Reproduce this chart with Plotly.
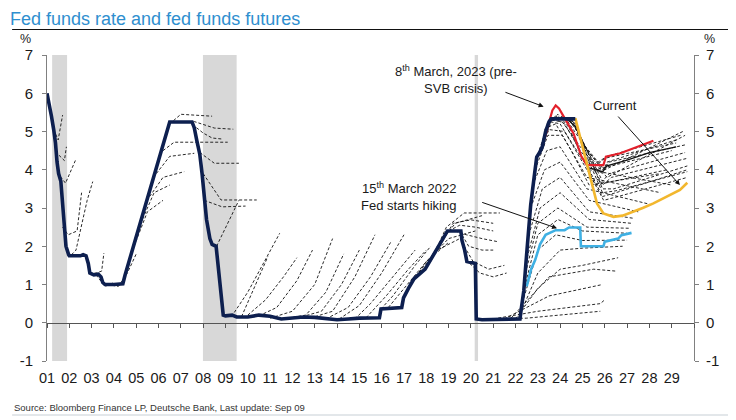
import plotly.graph_objects as go

# ---------------- data ----------------
year_ticks = list(range(2001, 2030))
year_labels = [f"{y % 100:02d}" for y in year_ticks]
y_ticks = [-1, 0, 1, 2, 3, 4, 5, 6, 7]
y_labels = ["-1", "0", "1", "2", "3", "4", "5", "6", "7"]

recessions = [(2001.23, 2001.9), (2007.99, 2009.5), (2020.17, 2020.32)]

fed_years = [2001.0, 2001.08, 2001.2, 2001.3, 2001.38, 2001.45, 2001.52, 2001.62, 2001.68, 2001.76,
             2001.85, 2001.97, 2002.0, 2002.5, 2002.62, 2002.75, 2002.85, 2002.92, 2003.1, 2003.3,
             2003.42, 2003.5, 2003.6, 2004.0, 2004.4, 2004.5, 2004.75, 2005.0, 2005.25, 2005.5,
             2005.75, 2006.0, 2006.25, 2006.5, 2007.5, 2007.6, 2007.72, 2007.85, 2007.95, 2008.05,
             2008.15, 2008.3, 2008.4, 2008.58, 2008.68, 2008.78, 2008.9, 2009.0, 2009.3, 2009.5,
             2010.0, 2010.5, 2011.0, 2011.5, 2012.0, 2012.5, 2013.0, 2013.5, 2014.0, 2014.5,
             2015.0, 2015.9, 2015.97, 2016.9, 2016.98, 2017.2, 2017.45, 2017.95, 2018.2, 2018.45,
             2018.7, 2018.95, 2019.55, 2019.6, 2019.72, 2019.82, 2020.2, 2020.24, 2020.5, 2021.0,
             2021.5, 2022.2, 2022.25, 2022.37, 2022.47, 2022.57, 2022.68, 2022.84, 2022.95, 2023.08,
             2023.2, 2023.35, 2023.5, 2023.6, 2024.68]
fed_values = [6.0, 5.7, 5.4, 5.05, 4.7, 4.2, 3.9, 3.7, 3.2, 2.5,
              2.0, 1.78, 1.75, 1.75, 1.78, 1.75, 1.55, 1.3, 1.25, 1.27,
              1.2, 1.05, 1.0, 1.0, 1.02, 1.25, 1.75, 2.3, 2.75, 3.25,
              3.75, 4.3, 4.75, 5.25, 5.25, 5.1, 4.75, 4.4, 3.9, 3.2,
              2.7, 2.2, 2.05, 2.0, 1.5, 0.8, 0.2, 0.18, 0.2, 0.15,
              0.15, 0.2, 0.17, 0.1, 0.12, 0.15, 0.14, 0.1, 0.08, 0.1,
              0.12, 0.13, 0.36, 0.4, 0.65, 0.9, 1.15, 1.4, 1.65, 1.9,
              2.15, 2.4, 2.4, 2.15, 1.9, 1.6, 1.55, 0.1, 0.08, 0.08,
              0.1, 0.1, 0.33, 0.83, 1.58, 2.33, 3.08, 3.83, 4.33, 4.45,
              4.6, 5.0, 5.25, 5.33, 5.33]

mar2023_years = [2023.2, 2023.45, 2023.65, 2023.8, 2023.95, 2024.2, 2024.6, 2024.95, 2025.2, 2025.94,
                 2026.05, 2026.7, 2027.28, 2027.88, 2028.18]
mar2023_values = [4.6, 5.1, 5.55, 5.68, 5.6, 5.35, 4.95, 4.35, 4.12, 4.12,
                  4.34, 4.43, 4.56, 4.69, 4.76]

current_years = [2024.68, 2024.85, 2025.05, 2025.25, 2025.43, 2025.65, 2025.94, 2026.39, 2026.8, 2027.28,
                 2027.7, 2028.18, 2028.78, 2029.37, 2029.7]
current_values = [5.35, 4.95, 4.52, 4.05, 3.65, 3.12, 2.86, 2.77, 2.8, 2.9,
                  3.0, 3.12, 3.29, 3.47, 3.66]

mar2022_years = [2022.5, 2022.7, 2022.88, 2023.1, 2023.35, 2023.8, 2024.2, 2024.4, 2024.9, 2024.93,
                 2025.94, 2026.0, 2026.6, 2026.75, 2027.2]
mar2022_values = [0.95, 1.4, 1.64, 2.05, 2.3, 2.42, 2.42, 2.49, 2.49, 2.0,
                  2.0, 2.12, 2.2, 2.29, 2.35]

prior_years = [2025.3, 2025.9, 2026.1, 2027.0, 2028.0, 2029.2]
prior_values = [4.05, 3.95, 4.1, 4.25, 4.45, 4.6]

# historical fed funds futures curves: (years, values)
futures_curves = [
    ([2001.3, 2001.5, 2001.7], [5.05, 4.78, 5.43]),
    ([2001.38, 2001.78, 2001.87], [4.47, 4.24, 4.6]),
    ([2001.6, 2001.83, 2002.3], [3.82, 3.65, 4.28]),
    ([2001.7, 2001.95, 2002.35, 2002.55], [2.5, 2.3, 2.4, 3.4]),
    ([2002.1, 2002.3, 2002.8, 2003.05], [1.78, 1.9, 3.2, 3.69]),
    ([2002.9, 2003.2, 2003.45, 2003.55], [1.3, 1.3, 1.35, 1.82]),
    ([2003.2, 2003.6, 2004.0], [1.25, 0.95, 1.05]),
    ([2003.7, 2004.2, 2004.6, 2005.0], [1.0, 0.95, 1.3, 1.8]),
    ([2004.9, 2005.5, 2006.2], [2.0, 2.9, 3.2]),
    ([2005.2, 2005.8, 2006.5], [2.6, 3.4, 3.6]),
    ([2005.6, 2006.2, 2007.15], [3.3, 3.8, 3.95]),
    ([2005.9, 2006.5, 2007.6], [3.9, 4.35, 4.43]),
    ([2006.2, 2006.7, 2009.1], [4.5, 4.72, 4.72]),
    ([2006.5, 2007.0, 2008.4], [5.2, 5.45, 5.4]),
    ([2006.9, 2007.6, 2008.5, 2009.35], [5.25, 5.26, 5.09, 5.06]),
    ([2007.7, 2008.0, 2008.4, 2008.9], [5.1, 4.96, 4.83, 4.8]),
    ([2007.85, 2008.5, 2009.6], [4.45, 4.17, 4.17]),
    ([2008.0, 2008.8, 2010.4], [3.9, 3.21, 3.21]),
    ([2008.05, 2008.85, 2009.9], [3.2, 3.03, 3.05]),
    ([2008.6, 2009.1, 2009.6], [2.0, 2.6, 3.2]),
    ([2009.27, 2010.0, 2011.43], [0.16, 0.8, 2.34]),
    ([2009.72, 2010.3, 2010.9], [0.16, 0.94, 1.73]),
    ([2010.0, 2010.8, 2011.6, 2012.2], [0.2, 0.6, 1.2, 1.7]),
    ([2010.5, 2011.3, 2012.2, 2012.9], [0.18, 0.4, 1.1, 1.9]),
    ([2011.0, 2012.0, 2013.0, 2013.8], [0.12, 0.3, 1.0, 2.2]),
    ([2011.6, 2012.6, 2013.5, 2014.3], [0.1, 0.2, 0.8, 1.8]),
    ([2012.2, 2013.3, 2014.2, 2015.0], [0.12, 0.3, 1.0, 1.9]),
    ([2012.8, 2013.8, 2014.8, 2015.7], [0.12, 0.3, 1.2, 2.3]),
    ([2013.5, 2014.5, 2015.5, 2016.4], [0.1, 0.4, 1.2, 2.1]),
    ([2014.1, 2015.0, 2016.0, 2017.0], [0.1, 0.45, 1.3, 2.3]),
    ([2014.8, 2015.5, 2016.5, 2017.5], [0.1, 0.5, 1.2, 1.9]),
    ([2015.3, 2016.2, 2017.2, 2018.0], [0.13, 0.7, 1.4, 1.9]),
    ([2015.97, 2016.5, 2017.5, 2018.2], [0.36, 0.7, 1.5, 2.0]),
    ([2016.3, 2017.0, 2018.0, 2019.0], [0.4, 0.9, 1.6, 2.1]),
    ([2016.98, 2017.5, 2018.5, 2019.5], [0.65, 1.2, 1.9, 2.2]),
    ([2017.3, 2018.0, 2019.0, 2020.2], [1.0, 1.6, 2.2, 2.4]),
    ([2017.8, 2018.5, 2019.3, 2020.5], [1.3, 2.0, 2.6, 2.8]),
    ([2018.2, 2018.9, 2019.7, 2021.3], [1.6, 2.5, 2.87, 2.87]),
    ([2018.6, 2019.2, 2020.0, 2021.0], [2.0, 2.6, 2.69, 2.6]),
    ([2019.0, 2019.5, 2020.2, 2021.0], [2.4, 2.55, 2.5, 2.4]),
    ([2019.3, 2019.8, 2020.5, 2021.2], [2.4, 2.3, 2.2, 2.12]),
    ([2019.5, 2019.9, 2020.5, 2021.0], [2.4, 2.0, 1.9, 1.9]),
    ([2019.7, 2020.1, 2020.8, 2021.5], [2.0, 1.6, 1.4, 1.5]),
    ([2019.95, 2020.4, 2021.0, 2021.6], [1.55, 1.3, 1.2, 1.3]),
    ([2020.4, 2022.5, 2025.8], [0.1, 0.12, 0.3]),
    ([2021.0, 2023.0, 2025.8, 2026.0], [0.1, 0.3, 0.5, 0.6]),
    ([2021.5, 2023.5, 2025.9], [0.1, 0.7, 1.0]),
    ([2021.8, 2023.5, 2025.5, 2026.5], [0.12, 1.2, 1.4, 1.35]),
    ([2022.0, 2023.0, 2024.0, 2025.0, 2026.6], [0.1, 0.9, 1.4, 1.5, 1.7]),
    ([2022.15, 2023.0, 2024.0, 2025.0, 2026.8], [0.15, 1.3, 1.9, 1.95, 2.0]),
    ([2022.25, 2023.0, 2023.8, 2025.0, 2027.0], [0.4, 1.9, 2.3, 2.15, 2.16]),
    ([2022.35, 2023.0, 2023.9, 2025.0, 2027.0], [0.8, 2.3, 2.7, 2.4, 2.34]),
    ([2022.45, 2023.0, 2023.9, 2025.2, 2027.1], [1.3, 2.6, 3.0, 2.5, 2.47]),
    ([2022.52, 2023.1, 2024.0, 2025.3, 2027.2], [1.7, 3.0, 3.4, 2.7, 2.6]),
    ([2022.6, 2023.2, 2024.0, 2025.3, 2027.3], [2.3, 3.5, 3.8, 2.9, 2.73]),
    ([2022.68, 2023.3, 2024.0, 2025.3, 2027.5], [3.0, 4.0, 4.2, 3.2, 2.9]),
    ([2022.78, 2023.4, 2024.0, 2025.2, 2028.0], [3.6, 4.5, 4.6, 3.5, 3.1]),
    ([2022.88, 2023.45, 2024.1, 2025.2, 2028.5], [4.0, 4.9, 4.9, 3.8, 3.4]),
    ([2022.97, 2023.5, 2024.2, 2025.3, 2029.0], [4.35, 5.05, 5.0, 4.0, 3.6]),
    ([2023.0, 2023.4, 2023.8, 2024.5, 2025.3, 2028.5], [4.4, 5.1, 5.2, 4.5, 3.6, 3.9]),
    ([2023.1, 2023.6, 2024.0, 2024.8, 2025.6, 2028.8], [4.5, 5.25, 5.2, 4.4, 3.6, 4.0]),
    ([2023.2, 2023.6, 2024.1, 2024.9, 2025.6, 2026.0, 2029.2], [4.7, 5.3, 5.25, 4.6, 4.1, 4.3, 4.7]),
    ([2023.3, 2023.7, 2024.2, 2024.9, 2025.6, 2029.0], [5.05, 5.35, 5.2, 4.5, 4.0, 4.5]),
    ([2023.4, 2023.8, 2024.3, 2025.0, 2025.7, 2026.1, 2029.4], [5.2, 5.4, 5.3, 4.7, 4.2, 4.35, 4.9]),
    ([2023.5, 2023.9, 2024.4, 2025.0, 2025.9, 2026.1, 2029.3], [5.25, 5.45, 5.1, 4.3, 3.9, 4.2, 4.8]),
    ([2023.6, 2024.1, 2024.6, 2025.2, 2026.0, 2029.5], [5.33, 5.4, 5.2, 4.5, 4.0, 5.0]),
    ([2023.7, 2024.2, 2024.7, 2025.3, 2025.9, 2026.2, 2029.6], [5.33, 5.38, 5.1, 4.4, 3.7, 3.9, 4.45]),
    ([2023.8, 2024.3, 2024.8, 2025.4, 2026.1, 2029.6], [5.33, 5.35, 5.0, 4.3, 3.8, 4.9]),
    ([2024.0, 2024.5, 2025.1, 2025.9, 2026.2, 2029.6], [5.33, 5.3, 4.6, 4.0, 4.2, 4.65]),
    ([2024.1, 2024.6, 2025.2, 2025.9, 2026.4, 2029.7], [5.33, 5.25, 4.5, 3.5, 3.5, 4.1]),
    ([2024.2, 2024.7, 2025.2, 2025.9, 2026.3, 2029.7], [5.33, 5.2, 4.4, 3.6, 3.8, 4.3]),
    ([2024.3, 2024.75, 2025.3, 2025.9, 2026.5, 2029.7], [5.33, 5.1, 4.2, 3.4, 3.45, 3.95]),
    ([2024.4, 2024.8, 2025.3, 2025.9, 2026.5, 2029.7], [5.33, 5.0, 4.0, 3.3, 3.4, 4.0]),
    ([2024.5, 2024.9, 2025.4, 2025.95, 2026.6, 2029.7], [5.33, 4.8, 3.8, 3.2, 3.3, 3.8]),
]

# ---------------- geometry helpers (screen pixels; page body has an 8px margin) ----------------
OFF = 8
FIG_W, FIG_H = 736 - OFF, 420 - OFF
PL, PR, PT, PB = 45, 694, 55, 361          # plot area in screen pixels
PW, PH = PR - PL, PB - PT


def px(xs):
    return (xs - PL) / PW


def py(ys):
    return (PB - ys) / PH


FONT = "Liberation Sans, Arial, sans-serif"
fig = go.Figure()

for xs, ys in futures_curves:
    fig.add_trace(go.Scatter(x=xs, y=ys, mode="lines", hoverinfo="skip", showlegend=False,
                             line=dict(color="#111111", width=0.9, dash="3px,2px")))

fig.add_trace(go.Scatter(x=prior_years, y=prior_values, mode="lines", showlegend=False,
                         line=dict(color="#111111", width=1.3)))
fig.add_trace(go.Scatter(x=mar2022_years, y=mar2022_values, mode="lines", showlegend=False,
                         line=dict(color="#3fb0e3", width=2.6)))
fig.add_trace(go.Scatter(x=mar2023_years, y=mar2023_values, mode="lines", showlegend=False,
                         line=dict(color="#e3202b", width=2.2)))
fig.add_trace(go.Scatter(x=current_years, y=current_values, mode="lines", showlegend=False,
                         line=dict(color="#f2b72e", width=2.6)))
fig.add_trace(go.Scatter(x=fed_years, y=fed_values, mode="lines", showlegend=False,
                         line=dict(color="#0d1f4f", width=3.6)))

# invisible helpers for secondary axes
fig.add_trace(go.Scatter(x=[2001, 2030], y=[0, 0], xaxis="x2", yaxis="y", mode="lines",
                         line=dict(width=0), hoverinfo="skip", showlegend=False))
fig.add_trace(go.Scatter(x=[2001, 2030], y=[-1, 7], xaxis="x", yaxis="y2", mode="markers",
                         marker=dict(opacity=0), hoverinfo="skip", showlegend=False))

for x0, x1 in recessions:
    fig.add_shape(type="rect", xref="x", yref="y", x0=x0, x1=x1, y0=-1, y1=7,
                  fillcolor="#d8d8d8", line=dict(width=0), layer="below")

axis_grey = "#808080"
fig.update_layout(
    width=FIG_W, height=FIG_H, autosize=False,
    margin=dict(l=PL - OFF, r=736 - PR, t=PT - OFF, b=420 - PB, pad=0),
    paper_bgcolor="white", plot_bgcolor="white",
    font=dict(family=FONT, color="#1a1a1a", size=14),
    showlegend=False,
    xaxis=dict(range=[2001, 2030], tickvals=year_ticks, ticktext=year_labels, ticks="",
               showline=False, showgrid=False, zeroline=False, tickfont=dict(size=14.5),
               ticklabelstandoff=6),
    xaxis2=dict(range=[2001, 2030], overlaying="x", anchor="free", position=0.125,
                showline=True, linecolor="#555555", linewidth=1, ticks="outside", ticklen=4,
                tickcolor="#555555", dtick=1, tick0=2001, showticklabels=False,
                showgrid=False, zeroline=False),
    yaxis=dict(range=[-1, 7], tickvals=y_ticks, ticktext=y_labels, showline=True,
               linecolor=axis_grey, linewidth=1, ticks="outside", ticklen=4, tickcolor=axis_grey,
               showgrid=False, zeroline=False, tickfont=dict(size=15), ticklabelstandoff=6),
    yaxis2=dict(range=[-1, 7], tickvals=y_ticks, ticktext=y_labels, overlaying="y", side="right",
                showline=True, linecolor=axis_grey, linewidth=1, ticks="outside", ticklen=4,
                tickcolor=axis_grey, showgrid=False, zeroline=False, tickfont=dict(size=15),
                ticklabelstandoff=4),
    title=dict(text="Fed funds rate and fed funds futures", xref="container", yref="container",
               x=(10 - OFF) / FIG_W, y=1 - (18.5 - OFF) / FIG_H, xanchor="left", yanchor="middle",
               font=dict(family=FONT, size=18, color="#2f8fcf")),
)

# rule under title and footer rule
fig.add_shape(type="line", xref="paper", yref="paper", x0=px(10), x1=px(740),
              y0=py(29.5), y1=py(29.5), line=dict(color="#111111", width=1.2))
fig.add_shape(type="line", xref="paper", yref="paper", x0=px(10), x1=px(740),
              y0=py(415), y1=py(415), line=dict(color="#e3e7ea", width=2))

ann = []
ann.append(dict(text="%", xref="paper", yref="paper", x=px(23), y=py(39),
                showarrow=False, font=dict(size=12.5), xanchor="center", yanchor="middle"))
ann.append(dict(text="%", xref="paper", yref="paper", x=px(710), y=py(39),
                showarrow=False, font=dict(size=12.5), xanchor="center", yanchor="middle"))
ann.append(dict(text="Source: Bloomberg Finance LP, Deutsche Bank, Last update: Sep 09",
                xref="paper", yref="paper", x=px(10), y=py(407),
                showarrow=False, xanchor="left", yanchor="middle",
                font=dict(size=9.5, color="#333333", family=FONT)))
# text labels
ann.append(dict(text="8<sup>th</sup> March, 2023 (pre-<br>SVB crisis)", x=2019.32, y=6.36,
                xref="x", yref="y", showarrow=False, align="center", font=dict(size=13)))
ann.append(dict(text="Current", x=2026.44, y=5.69, xref="x", yref="y", showarrow=False,
                font=dict(size=13)))
ann.append(dict(text="15<sup>th</sup> March 2022<br>Fed starts hiking", x=2019.41, y=3.31,
                xref="x", yref="y", showarrow=False, align="right", xanchor="right",
                font=dict(size=13)))
# arrows
for (hx, hy, tx, ty) in [(2023.26, 5.65, 2021.48, 6.04),
                         (2029.37, 3.6, 2026.54, 5.43),
                         (2023.86, 2.47, 2020.44, 3.16)]:
    ann.append(dict(text="", x=hx, y=hy, ax=tx, ay=ty, xref="x", yref="y", axref="x", ayref="y",
                    showarrow=True, arrowhead=2, arrowsize=1, arrowwidth=1, arrowcolor="#111111"))

fig.update_layout(annotations=ann)
fig.update_annotations(font_family=FONT)

fig.write_html("out.html")
